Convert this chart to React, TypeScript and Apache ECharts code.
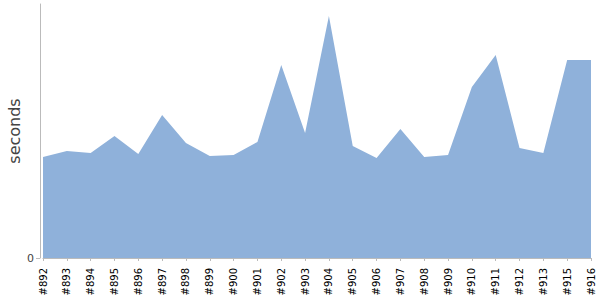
import React, { useEffect, useRef } from "react";
import * as echarts from "echarts";

const categories = [
  "#892", "#893", "#894", "#895", "#896", "#897", "#898", "#899", "#900", "#901",
  "#902", "#903", "#904", "#905", "#906", "#907", "#908", "#909", "#910", "#911",
  "#912", "#913", "#915", "#916",
];
const seconds = [
  101, 107, 105, 122, 104, 143, 115, 102, 103, 116,
  193, 125, 242, 112, 100, 129, 101, 103, 171, 203,
  110, 105, 198, 198,
];
const yTicks = [0];
const yMax = 254;

export default function App() {
  const ref = useRef<HTMLDivElement>(null);
  useEffect(() => {
    document.body.style.margin = "0";
    if (!ref.current) return;
    const chart = echarts.init(ref.current, null, { renderer: "svg" });
    chart.setOption({
      animation: false,
      grid: { left: 43, right: 9, top: 4, bottom: 42, containLabel: false, outerBoundsMode: "none" },
      xAxis: {
        type: "category",
        data: categories,
        boundaryGap: false,
        offset: 5,
        axisLine: { lineStyle: { color: "#bbbbbb", width: 1 } },
        axisTick: { alignWithLabel: true, length: 3, lineStyle: { color: "#bbbbbb" } },
        axisLabel: {
          interval: 0,
          rotate: 90,
          color: "#000000",
          fontFamily: "DejaVu Sans",
          fontSize: 10,
          margin: 5,
        },
      },
      yAxis: {
        type: "value",
        min: 0,
        max: yMax,
        offset: 3,
        name: "seconds",
        nameLocation: "middle",
        nameGap: 18,
        nameMoveOverlap: false,
        nameTextStyle: { fontFamily: "DejaVu Sans", fontSize: 16, color: "#444444" },
        axisLine: { show: true, lineStyle: { color: "#bbbbbb", width: 1 } },
        axisTick: { show: true, length: 4, customValues: yTicks, lineStyle: { color: "#bbbbbb" } },
        splitLine: { show: false },
        axisLabel: {
          color: "#444444",
          fontFamily: "DejaVu Sans",
          fontSize: 11,
          margin: 6,
          customValues: yTicks,
        },
      },
      series: [
        {
          type: "line",
          data: seconds,
          symbol: "none",
          lineStyle: { width: 0 },
          areaStyle: { color: "#8fb1da", opacity: 1 },
        },
      ],
    });
    return () => chart.dispose();
  }, []);
  return <div ref={ref} style={{ width: 600, height: 300 }} />;
}
